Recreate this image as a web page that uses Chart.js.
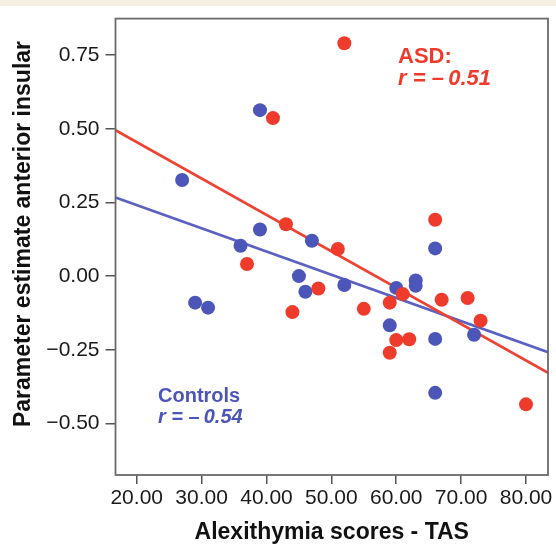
<!DOCTYPE html>
<html>
<head>
<meta charset="utf-8">
<script src="https://cdn.jsdelivr.net/npm/chart.js@4/dist/chart.umd.min.js"></script>
<style>
  html, body { margin: 0; padding: 0; background: #ffffff; }
  #wrap { position: relative; width: 556px; height: 545px; }
  #strip { position: absolute; left: 0; top: 0; width: 556px; height: 6px; background: #f5f0e1; z-index: 2; }
  canvas { position: absolute; left: 0; top: 0; }
</style>
</head>
<body>
<div id="wrap">
  <div id="strip"></div>
  <canvas id="c" width="556" height="545"></canvas>
</div>
<script>
// ---- data ----
const asdX  = [52, 41, 43, 66, 51, 37, 48, 44, 55, 59, 61, 67, 71, 73, 60, 62, 59, 80];
const asdY  = [0.790, 0.536, 0.176, 0.191, 0.092, 0.041, -0.042, -0.122, -0.111, -0.090, -0.061, -0.080, -0.074, -0.151, -0.217, -0.214, -0.260, -0.435];
const ctrlX = [39, 27, 39, 36, 47, 66, 45, 46, 29, 31, 52, 60, 63, 63, 59, 66, 72, 66];
const ctrlY = [0.563, 0.326, 0.158, 0.103, 0.120, 0.094, 0.000, -0.053, -0.090, -0.107, -0.030, -0.040, -0.015, -0.033, -0.167, -0.213, -0.199, -0.396];
// fitted line end points (as drawn in the reference)
const fitX    = [16.73, 83.39];
const asdFit  = [0.495, -0.328];
const ctrlFit = [0.267, -0.258];
// axes
const xTicks = [20, 30, 40, 50, 60, 70, 80];
const yTicks = [-0.50, -0.25, 0.00, 0.25, 0.50, 0.75];
const xRange = [16.73, 83.39];
const yRange = [-0.6746, 0.8735];
const xTitle = 'Alexithymia scores - TAS';
const yTitle = '\u00a0\u00a0\u00a0\u00a0Parameter estimate anterior insular';
const asdLabel  = ['ASD:', 'r = \u2013\u20090.51'];
const ctrlLabel = ['Controls', 'r = \u2013\u20090.54'];

const RED = '#ee3b2c', BLUE = '#4c56b8';
const RED_LINE = '#ef4232', BLUE_LINE = '#5a61c0';
const FONT = "'Liberation Sans', Arial, Helvetica, sans-serif";

const pts = (xs, ys) => xs.map((x, i) => ({ x: x, y: ys[i] }));

const framePlugin = {
  id: 'frame',
  afterDatasetsDraw(chart) {
    const { ctx, chartArea: a } = chart;
    ctx.save();
    ctx.strokeStyle = '#6a6a6a';
    ctx.lineWidth = 1.8;
    ctx.strokeRect(a.left, a.top, a.right - a.left, a.bottom - a.top);
    ctx.restore();
  }
};

const notePlugin = {
  id: 'notes',
  afterDatasetsDraw(chart) {
    const { ctx } = chart;
    ctx.save();
    ctx.textAlign = 'left';
    ctx.textBaseline = 'alphabetic';
    ctx.fillStyle = RED;
    ctx.font = 'bold 22px ' + FONT;
    ctx.fillText(asdLabel[0], 398, 63);
    ctx.font = 'italic bold 22px ' + FONT;
    ctx.fillText(asdLabel[1], 398, 85);
    ctx.fillStyle = BLUE;
    ctx.font = 'bold 20px ' + FONT;
    ctx.fillText(ctrlLabel[0], 158, 402);
    ctx.font = 'italic bold 20px ' + FONT;
    ctx.fillText(ctrlLabel[1], 158, 423);
    ctx.restore();
  }
};

const fmtY = v => (v < 0 ? '\u2212' : '') + Math.abs(v).toFixed(2);

new Chart(document.getElementById('c'), {
  type: 'scatter',
  data: {
    datasets: [
      { type: 'scatter', data: pts(asdX, asdY), backgroundColor: RED, borderColor: RED, borderWidth: 0, pointRadius: 7, order: 0 },
      { type: 'scatter', data: pts(ctrlX, ctrlY), backgroundColor: BLUE, borderColor: BLUE, borderWidth: 0, pointRadius: 7, order: 1 },
      { type: 'line', data: pts(fitX, asdFit), borderColor: RED_LINE, borderWidth: 2.6, pointRadius: 0, fill: false, order: 2 },
      { type: 'line', data: pts(fitX, ctrlFit), borderColor: BLUE_LINE, borderWidth: 2.6, pointRadius: 0, fill: false, order: 3 }
    ]
  },
  options: {
    responsive: false,
    animation: false,
    devicePixelRatio: 1,
    layout: { padding: { left: 0, top: 11.5, right: 8, bottom: 0 } },
    plugins: { legend: { display: false }, tooltip: { enabled: false } },
    scales: {
      x: {
        type: 'linear',
        min: xRange[0], max: xRange[1],
        afterBuildTicks: s => { s.ticks = xTicks.map(v => ({ value: v })); },
        afterFit: s => { s.height = 70; },
        grid: { display: true, drawOnChartArea: false, drawTicks: true, tickLength: 9, color: '#555', lineWidth: 1.5 },
        border: { display: false },
        ticks: { color: '#1a1a1a', padding: 2, font: { family: FONT, size: 21 }, maxRotation: 0, callback: v => Number(v).toFixed(2) },
        title: { display: true, text: xTitle, color: '#111', font: { family: FONT, size: 23, weight: 'bold', lineHeight: 1 }, padding: { top: 0, bottom: 1 } }
      },
      y: {
        type: 'linear',
        min: yRange[0], max: yRange[1],
        afterBuildTicks: s => { s.ticks = yTicks.map(v => ({ value: v })); },
        afterFit: s => { s.width = 115.5; },
        grid: { display: true, drawOnChartArea: false, drawTicks: true, tickLength: 10, color: '#555', lineWidth: 1.5 },
        border: { display: false },
        ticks: { color: '#1a1a1a', padding: 6, font: { family: FONT, size: 21 }, callback: v => fmtY(v) },
        title: { display: true, text: yTitle, color: '#111', font: { family: FONT, size: 23, weight: 'bold', lineHeight: 1 }, padding: { top: 12, bottom: 0 } }
      }
    }
  },
  plugins: [framePlugin, notePlugin]
});
</script>
</body>
</html>
